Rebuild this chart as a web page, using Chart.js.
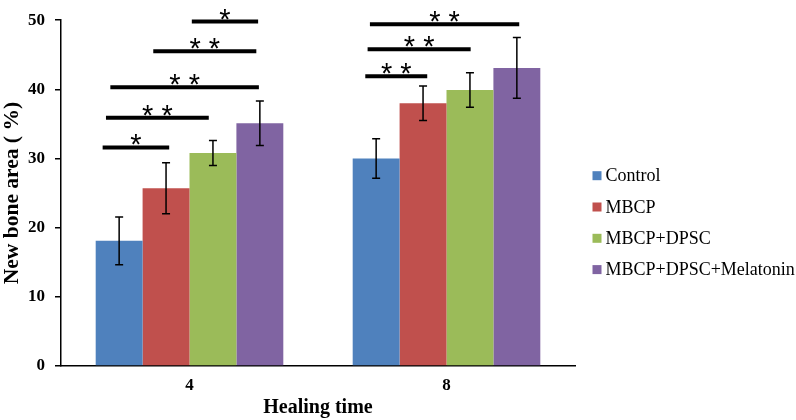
<!DOCTYPE html>
<html>
<head>
<meta charset="utf-8">
<script src="https://cdn.jsdelivr.net/npm/chart.js@4.4.1/dist/chart.umd.min.js"></script>
<style>
    html, body { margin: 0; padding: 0; background: #ffffff; }
    #wrap { width: 796px; height: 420px; }
</style>
</head>
<body>
<div id="wrap"><canvas id="bone-chart" width="796" height="420"></canvas></div>
<script>
const categories = ['4', '8'];
const seriesNames = ['Control', 'MBCP', 'MBCP+DPSC', 'MBCP+DPSC+Melatonin'];

const controlValues = [18.1, 30.0];
const mbcpValues = [25.7, 38.0];
const dpscValues = [30.8, 39.9];
const melatoninValues = [35.1, 43.1];

const controlErrors = [3.45, 2.85];
const mbcpErrors = [3.7, 2.5];
const dpscErrors = [1.8, 2.5];
const melatoninErrors = [3.2, 4.4];

const yTicks = [0, 10, 20, 30, 40, 50];

// significance brackets, x in category units (0 = "4", 1 = "8"), y in %
const sigStart = [-0.338, -0.325, -0.308, -0.141, 0.009, 0.684, 0.693, 0.702];
const sigEnd = [-0.079, 0.075, 0.270, 0.260, 0.267, 0.925, 1.094, 1.283];
const sigLevel = [31.6, 35.9, 40.3, 45.5, 49.8, 41.9, 45.8, 49.4];
const sigLabel = ['*', '* *', '* *', '* *', '*', '* *', '* *', '* *'];

const colors = ['#4f81bd', '#c0504d', '#9bbb59', '#8064a2'];
const allValues = [controlValues, mbcpValues, dpscValues, melatoninValues];
const allErrors = [controlErrors, mbcpErrors, dpscErrors, melatoninErrors];

const serif = '"Liberation Serif", "Times New Roman", serif';
Chart.defaults.font.family = serif;
Chart.defaults.color = '#000000';

const errorBars = {
    id: 'errorBars',
    afterDatasetsDraw(chart) {
        const { ctx, scales: { y } } = chart;
        ctx.save();
        ctx.strokeStyle = '#000000';
        ctx.lineWidth = 1.5;
        chart.data.datasets.forEach((dataset, i) => {
            const meta = chart.getDatasetMeta(i);
            meta.data.forEach((bar, j) => {
                const value = dataset.data[j];
                const err = allErrors[i][j];
                const top = y.getPixelForValue(value + err);
                const bottom = y.getPixelForValue(value - err);
                ctx.beginPath();
                ctx.moveTo(bar.x, top);
                ctx.lineTo(bar.x, bottom);
                ctx.moveTo(bar.x - 4, top);
                ctx.lineTo(bar.x + 4, top);
                ctx.moveTo(bar.x - 4, bottom);
                ctx.lineTo(bar.x + 4, bottom);
                ctx.stroke();
            });
        });
        ctx.restore();
    },
};

const significance = {
    id: 'significance',
    afterDraw(chart) {
        const { ctx, scales: { x, y } } = chart;
        ctx.save();
        ctx.strokeStyle = '#000000';
        ctx.fillStyle = '#000000';
        ctx.lineWidth = 4;
        ctx.font = '29px "Liberation Sans", Arial, sans-serif';
        ctx.textAlign = 'center';
        ctx.textBaseline = 'alphabetic';
        sigLevel.forEach((level, i) => {
            const x1 = x.getPixelForValue(sigStart[i]);
            const x2 = x.getPixelForValue(sigEnd[i]);
            const yy = y.getPixelForValue(level);
            ctx.beginPath();
            ctx.moveTo(x1, yy);
            ctx.lineTo(x2, yy);
            ctx.stroke();
            ctx.fillText(sigLabel[i], (x1 + x2) / 2, yy + 7);
        });
        ctx.restore();
    },
};

// legend drawn by hand: the built-in one is capped at a quarter of the width
const sideLegend = {
    id: 'sideLegend',
    afterDraw(chart) {
        const { ctx, chartArea } = chart;
        ctx.save();
        ctx.font = '18px ' + serif;
        ctx.textAlign = 'left';
        ctx.textBaseline = 'middle';
        chart.data.datasets.forEach((dataset, i) => {
            const cy = chartArea.top + 155.5 + i * 31.3;
            ctx.fillStyle = dataset.backgroundColor;
            ctx.fillRect(chartArea.right + 17.5, cy - 4.5, 9, 9);
            ctx.fillStyle = '#000000';
            ctx.fillText(dataset.label, chartArea.right + 30.5, cy + 1);
        });
        ctx.restore();
    },
};

new Chart(document.getElementById('bone-chart'), {
    type: 'bar',
    data: {
        labels: categories,
        datasets: seriesNames.map((name, i) => ({
            label: name,
            data: allValues[i],
            backgroundColor: colors[i],
            borderWidth: 0,
            categoryPercentage: 0.73,
            barPercentage: 1,
        })),
    },
    options: {
        responsive: false,
        animation: false,
        layout: {
            padding: { top: 19.5, right: 221, bottom: 0, left: 0 },
        },
        plugins: {
            legend: { display: false },
            tooltip: { enabled: false },
        },
        scales: {
            x: {
                grid: { display: false, drawTicks: false },
                border: { display: true, color: '#000000', width: 1.5 },
                ticks: {
                    padding: 9,
                    font: { size: 17, weight: 'bold' },
                },
                title: {
                    display: true,
                    text: 'Healing time',
                    padding: { top: 0, bottom: 0 },
                    font: { size: 20, weight: 'bold' },
                },
                afterFit: (scale) => {
                    scale.height = 54;
                },
            },
            y: {
                min: 0,
                max: 50,
                afterBuildTicks: (scale) => {
                    scale.ticks = yTicks.map((value) => ({ value }));
                },
                grid: {
                    display: true,
                    drawOnChartArea: false,
                    drawTicks: true,
                    tickLength: 6,
                    color: '#000000',
                    lineWidth: 1.5,
                },
                border: { display: true, color: '#000000', width: 1.5 },
                ticks: {
                    padding: 10,
                    font: { size: 17, weight: 'bold' },
                },
                title: {
                    display: true,
                    text: 'New bone area ( %)',
                    padding: { top: 0, bottom: 0 },
                    font: { size: 21.5, weight: 'bold' },
                },
                afterFit: (scale) => {
                    scale.width = 61;
                },
            },
        },
    },
    plugins: [errorBars, significance, sideLegend],
});
</script>
</body>
</html>
